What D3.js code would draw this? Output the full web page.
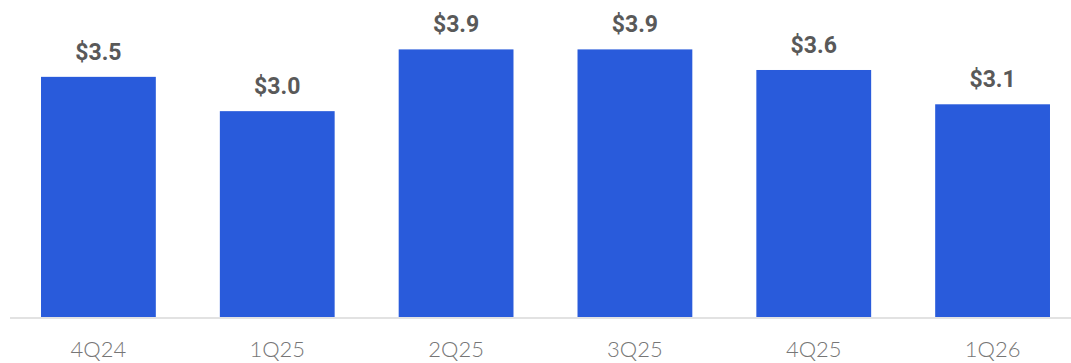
<!DOCTYPE html>
<html>
<head>
<meta charset="utf-8">
<script src="https://cdn.jsdelivr.net/npm/d3@7"></script>
<style>
  body { margin: 0; background: #fff; }
  svg { display: block; }
</style>
</head>
<body>
<script>
// quarters and revenue ($B)
const quarters = ['4Q24', '1Q25', '2Q25', '3Q25', '4Q25', '1Q26'];
const values = [3.5, 3.0, 3.9, 3.9, 3.6, 3.1];
const valueLabels = ['$3.5', '$3.0', '$3.9', '$3.9', '$3.6', '$3.1'];

const w = 1071;
const h = 363;
const baseY = 317;

const svg = d3.select('body')
    .append('svg')
    .attr('width', w)
    .attr('height', h)

const xScale = d3.scaleBand()
    .domain(quarters)
    .range([9, 1082])
    .paddingInner(0.358)
    .paddingOuter(0.179)

const yScale = d3.scaleLinear()
    .domain([0, 4.62])
    .range([baseY, 0])

// axis line
svg.append('line')
    .attr('x1', 10)
    .attr('x2', w)
    .attr('y1', baseY + 1)
    .attr('y2', baseY + 1)
    .attr('stroke', '#d9d9d9')
    .attr('stroke-width', 1.5)

svg.selectAll('rect')
    .data(values)
    .enter()
    .append('rect')
    .attr('x', (d, i) => xScale(quarters[i]))
    .attr('y', d => yScale(d))
    .attr('width', xScale.bandwidth())
    .attr('height', d => baseY - yScale(d))
    .attr('fill', '#295bdb')

svg.selectAll('.val')
    .data(values)
    .enter()
    .append('text')
    .attr('class', 'val')
    .attr('x', (d, i) => xScale(quarters[i]) + xScale.bandwidth() / 2)
    .attr('y', d => yScale(d) - 17)
    .attr('text-anchor', 'middle')
    .style('font-family', 'Roboto, sans-serif')
    .style('font-weight', 'bold')
    .style('font-size', '23px')
    .attr('fill', '#595959')
    .text((d, i) => valueLabels[i])

svg.selectAll('.cat')
    .data(quarters)
    .enter()
    .append('text')
    .attr('class', 'cat')
    .attr('x', d => xScale(d) + xScale.bandwidth() / 2)
    .attr('y', 357)
    .attr('text-anchor', 'middle')
    .style('font-family', 'Lato, sans-serif')
    .style('font-weight', 300)
    .style('font-size', '22px')
    .attr('fill', '#767676')
    .text(d => d)
</script>
</body>
</html>
